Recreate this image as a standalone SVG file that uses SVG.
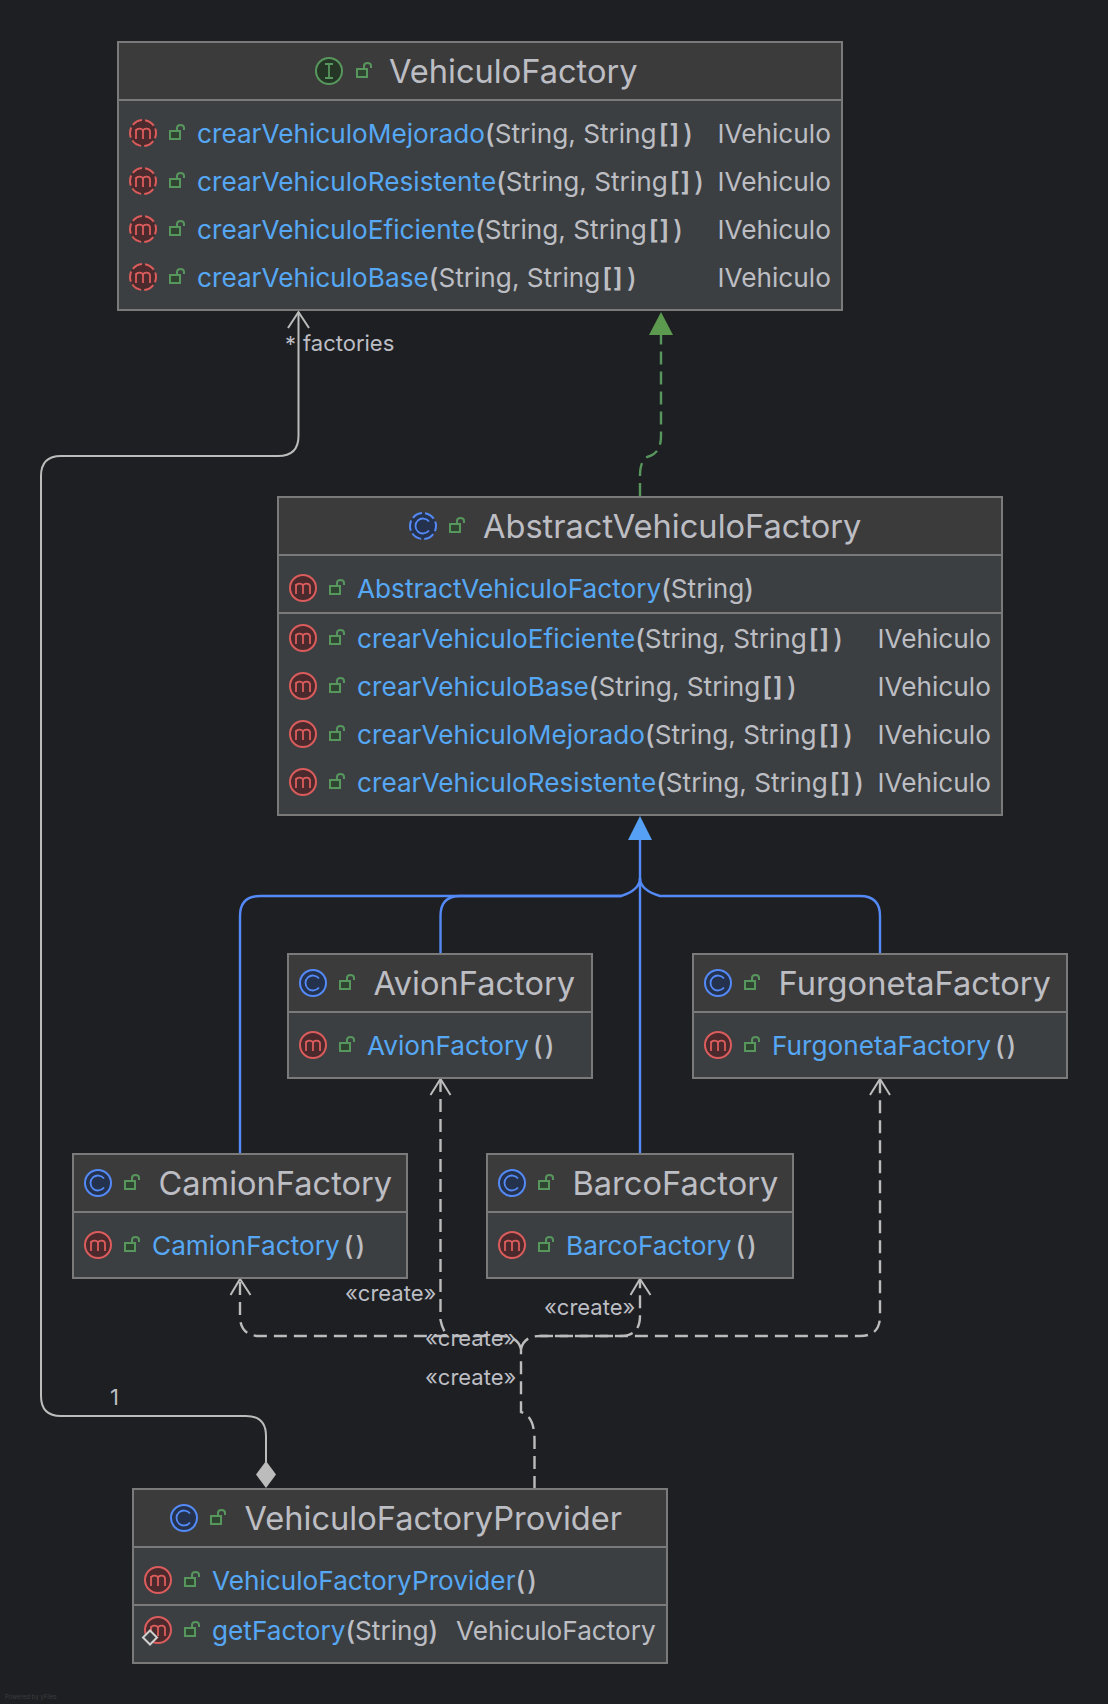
<svg xmlns="http://www.w3.org/2000/svg" xmlns:xlink="http://www.w3.org/1999/xlink" width="1108" height="1704" viewBox="0 0 1108 1704">
<style>
text{font-family:Inter,"Noto Sans",sans-serif;fill:#bcbec4}
.t{font-size:32.600px}
.r{font-size:26.200px}
.l{font-size:22px}
.b{fill:#56a8f5}
.p{font-weight:500}
.q{font-weight:600;letter-spacing:1px}
.body{fill:#3c3f41;stroke:#7a7a7a;stroke-width:2}
.head{fill:#3c3b3b}
.sep{stroke:#7a7a7a;stroke-width:2}
.e{fill:none;stroke-width:2.400}
.g{stroke:#bcbcbc}
.d{stroke-dasharray:13 7}
</style>
<defs>
<path id="mg" d="M-7 6V-4M-7-1.500C-7-5 0-5.500 0-1.500V6M0-1.500C0-5.500 7-5 7-1.500V6" fill="none" stroke="#db5c5c" stroke-width="1.800"/>
<g id="m"><circle r="13" fill="#4a2a2c" stroke="#db5c5c" stroke-width="2"/><use xlink:href="#mg"/></g>
<g id="ma"><circle r="13" fill="#4a2a2c" stroke="#db5c5c" stroke-width="2" stroke-dasharray="10.400 3.200" stroke-dashoffset="5"/><use xlink:href="#mg"/></g>
<g id="c"><circle r="13" fill="#25324d" stroke="#548af7" stroke-width="2"/><path d="M6-4.500A7.500 7.500 0 1 0 6 4.500" fill="none" stroke="#548af7" stroke-width="1.800"/></g>
<g id="ca"><circle r="13" fill="#25324d" stroke="#548af7" stroke-width="2" stroke-dasharray="10.400 3.200" stroke-dashoffset="5"/><path d="M6-4.500A7.500 7.500 0 1 0 6 4.500" fill="none" stroke="#548af7" stroke-width="1.800"/></g>
<g id="i"><circle r="13" fill="#253627" stroke="#57965c" stroke-width="2"/><path d="M-4-7H4M-4 7H4M0-7V7" fill="none" stroke="#57965c" stroke-width="1.800"/></g>
<g id="k" fill="none" stroke="#57965c" stroke-width="2"><rect x="-7" y="-2" width="10" height="8" fill="#2f4532"/><path d="M0-2V-5Q0-8 3.500-8Q7-8 7-5V-3"/></g>
</defs>
<rect width="1108" height="1704" fill="#1e1f22"/>

<g id="connectors">
<path class="e g" style="stroke-width:2" d="M298.500 312V436Q298.500 456 278 456H61Q41 456 41 476V1396Q41 1416 61 1416H246Q266 1416 266 1436V1462" />
<path d="M288 328L298.500 312L309 328" fill="none" stroke="#bcbcbc" stroke-width="2"/>
<path d="M266 1461L276 1474.500L266 1488L256 1474.500Z" fill="#bcbcbc"/>

<path class="e" stroke="#57965c" stroke-dasharray="13 7" d="M640 496V476Q640 458 650 456Q661 452 661 436V335"/>
<path d="M661 312L673 335H649Z" fill="#5c9a4f"/>

<g class="e" stroke="#548af7">
<path d="M640 1153V838"/>
<path d="M240 1153V916Q240 896 260 896H621Q640 890 640 878"/>
<path d="M440.500 953V916Q440.500 896 460 896H621"/>
<path d="M880 953V916Q880 896 860 896H660Q640 890 640 878"/>
</g>
<path d="M640 816L652 840H628Z" fill="#56a0f5"/>

<g class="e g d">
<path d="M534.500 1489V1440Q534.500 1416 521 1412V1349"/>
<path d="M521 1349Q518 1336 500 1336H260Q240 1336 240 1316V1278"/>
<path d="M521 1349Q524 1336 540 1336H860Q880 1336 880 1316V1078"/>
<path d="M540 1336H620Q640 1336 640 1316V1278"/>
<path d="M440.500 1079V1320Q442 1328 447 1336"/>
</g>
<g fill="none" stroke="#bcbcbc" stroke-width="2">
<path d="M230.500 1295L240 1279L250.500 1295"/>
<path d="M430.500 1095L440.500 1079L450.500 1095"/>
<path d="M630.500 1295L640 1279L650.500 1295"/>
<path d="M870 1095L880 1079L890 1095"/>
</g>
<text class="l" x="285" y="352">*</text>
<text class="l" x="303" y="351">factories</text>
<text class="l" x="110" y="1405">1</text>
<text class="l" x="345" y="1301">«create»</text>
<text class="l" x="425" y="1346">«create»</text>
<text class="l" x="425" y="1385">«create»</text>
<text class="l" x="544" y="1315">«create»</text>
</g>

<g id="VehiculoFactory">
<rect class="body" x="118" y="42" width="724" height="268"/>
<rect class="head" x="119" y="43" width="722" height="57"/>
<line class="sep" x1="119" y1="100" x2="841" y2="100"/>
<use xlink:href="#i" x="329" y="71"/><use xlink:href="#k" x="364" y="71"/>
<text class="t" x="389" y="83">VehiculoFactory</text>
<use xlink:href="#ma" x="143" y="133"/><use xlink:href="#k" x="177" y="133"/>
<text class="r" x="197" y="143"><tspan class="b">crearVehiculoMejorado</tspan><tspan class="p">(</tspan>String, String<tspan class="q" dx="2">[]</tspan><tspan class="p" dx="3">)</tspan></text><text class="r" x="717.500" y="143">IVehiculo</text>
<use xlink:href="#ma" x="143" y="181"/><use xlink:href="#k" x="177" y="181"/>
<text class="r" x="197" y="191"><tspan class="b">crearVehiculoResistente</tspan><tspan class="p">(</tspan>String, String<tspan class="q" dx="2">[]</tspan><tspan class="p" dx="3">)</tspan></text><text class="r" x="717.500" y="191">IVehiculo</text>
<use xlink:href="#ma" x="143" y="229"/><use xlink:href="#k" x="177" y="229"/>
<text class="r" x="197" y="239"><tspan class="b">crearVehiculoEficiente</tspan><tspan class="p">(</tspan>String, String<tspan class="q" dx="2">[]</tspan><tspan class="p" dx="3">)</tspan></text><text class="r" x="717.500" y="239">IVehiculo</text>
<use xlink:href="#ma" x="143" y="277"/><use xlink:href="#k" x="177" y="277"/>
<text class="r" x="197" y="287"><tspan class="b">crearVehiculoBase</tspan><tspan class="p">(</tspan>String, String<tspan class="q" dx="2">[]</tspan><tspan class="p" dx="3">)</tspan></text><text class="r" x="717.500" y="287">IVehiculo</text>
</g>

<g id="AbstractVehiculoFactory">
<rect class="body" x="278" y="497" width="724" height="318"/>
<rect class="head" x="279" y="498" width="722" height="57"/>
<line class="sep" x1="279" y1="555" x2="1001" y2="555"/>
<line class="sep" x1="279" y1="613" x2="1001" y2="613"/>
<use xlink:href="#ca" x="423" y="526"/><use xlink:href="#k" x="457" y="526"/>
<text class="t" x="483" y="538">AbstractVehiculoFactory</text>
<use xlink:href="#m" x="303" y="588"/><use xlink:href="#k" x="337" y="588"/>
<text class="r" x="357" y="598"><tspan class="b">AbstractVehiculoFactory</tspan><tspan class="p">(</tspan>String<tspan class="p">)</tspan></text>
<use xlink:href="#m" x="303" y="638"/><use xlink:href="#k" x="337" y="638"/>
<text class="r" x="357" y="648"><tspan class="b">crearVehiculoEficiente</tspan><tspan class="p">(</tspan>String, String<tspan class="q" dx="2">[]</tspan><tspan class="p" dx="3">)</tspan></text><text class="r" x="877.500" y="648">IVehiculo</text>
<use xlink:href="#m" x="303" y="686"/><use xlink:href="#k" x="337" y="686"/>
<text class="r" x="357" y="696"><tspan class="b">crearVehiculoBase</tspan><tspan class="p">(</tspan>String, String<tspan class="q" dx="2">[]</tspan><tspan class="p" dx="3">)</tspan></text><text class="r" x="877.500" y="696">IVehiculo</text>
<use xlink:href="#m" x="303" y="734"/><use xlink:href="#k" x="337" y="734"/>
<text class="r" x="357" y="744"><tspan class="b">crearVehiculoMejorado</tspan><tspan class="p">(</tspan>String, String<tspan class="q" dx="2">[]</tspan><tspan class="p" dx="3">)</tspan></text><text class="r" x="877.500" y="744">IVehiculo</text>
<use xlink:href="#m" x="303" y="782"/><use xlink:href="#k" x="337" y="782"/>
<text class="r" x="357" y="792"><tspan class="b">crearVehiculoResistente</tspan><tspan class="p">(</tspan>String, String<tspan class="q" dx="2">[]</tspan><tspan class="p" dx="3">)</tspan></text><text class="r" x="877.500" y="792">IVehiculo</text>
</g>

<g id="AvionFactory">
<rect class="body" x="288" y="954" width="304" height="124"/>
<rect class="head" x="289" y="955" width="302" height="57"/>
<line class="sep" x1="289" y1="1012" x2="591" y2="1012"/>
<use xlink:href="#c" x="313" y="983"/><use xlink:href="#k" x="347" y="983"/>
<text class="t" x="373.500" y="995">AvionFactory</text>
<use xlink:href="#m" x="313" y="1045"/><use xlink:href="#k" x="347" y="1045"/>
<text class="r" x="367" y="1055"><tspan class="b">AvionFactory</tspan><tspan class="p" dx="4" style="letter-spacing:2px">()</tspan></text>
</g>

<g id="FurgonetaFactory">
<rect class="body" x="693" y="954" width="374" height="124"/>
<rect class="head" x="694" y="955" width="372" height="57"/>
<line class="sep" x1="694" y1="1012" x2="1066" y2="1012"/>
<use xlink:href="#c" x="718" y="983"/><use xlink:href="#k" x="752" y="983"/>
<text class="t" x="778.500" y="995">FurgonetaFactory</text>
<use xlink:href="#m" x="718" y="1045"/><use xlink:href="#k" x="752" y="1045"/>
<text class="r" x="772" y="1055"><tspan class="b">FurgonetaFactory</tspan><tspan class="p" dx="4" style="letter-spacing:2px">()</tspan></text>
</g>

<g id="CamionFactory">
<rect class="body" x="73" y="1154" width="334" height="124"/>
<rect class="head" x="74" y="1155" width="332" height="57"/>
<line class="sep" x1="74" y1="1212" x2="406" y2="1212"/>
<use xlink:href="#c" x="98" y="1183"/><use xlink:href="#k" x="132" y="1183"/>
<text class="t" x="158.500" y="1195">CamionFactory</text>
<use xlink:href="#m" x="98" y="1245"/><use xlink:href="#k" x="132" y="1245"/>
<text class="r" x="152" y="1255"><tspan class="b">CamionFactory</tspan><tspan class="p" dx="4" style="letter-spacing:2px">()</tspan></text>
</g>

<g id="BarcoFactory">
<rect class="body" x="487" y="1154" width="306" height="124"/>
<rect class="head" x="488" y="1155" width="304" height="57"/>
<line class="sep" x1="488" y1="1212" x2="792" y2="1212"/>
<use xlink:href="#c" x="512" y="1183"/><use xlink:href="#k" x="546" y="1183"/>
<text class="t" x="572.500" y="1195">BarcoFactory</text>
<use xlink:href="#m" x="512" y="1245"/><use xlink:href="#k" x="546" y="1245"/>
<text class="r" x="566" y="1255"><tspan class="b">BarcoFactory</tspan><tspan class="p" dx="4" style="letter-spacing:2px">()</tspan></text>
</g>

<g id="VehiculoFactoryProvider">
<rect class="body" x="133" y="1489" width="534" height="174"/>
<rect class="head" x="134" y="1490" width="532" height="57"/>
<line class="sep" x1="134" y1="1547" x2="666" y2="1547"/>
<line class="sep" x1="134" y1="1605" x2="666" y2="1605"/>
<use xlink:href="#c" x="184" y="1518"/><use xlink:href="#k" x="218" y="1518"/>
<text class="t" x="244.500" y="1530">VehiculoFactoryProvider</text>
<use xlink:href="#m" x="158" y="1580"/><use xlink:href="#k" x="192" y="1580"/>
<text class="r" x="212" y="1590"><tspan class="b">VehiculoFactoryProvider</tspan><tspan class="p" style="letter-spacing:2px">()</tspan></text>
<use xlink:href="#m" x="158" y="1630"/><use xlink:href="#k" x="192" y="1630"/>
<path d="M150 1630.500L157 1637.500L150 1644.500L143 1637.500Z" fill="#3c3f41" stroke="#d0d0d0" stroke-width="2"/>
<text class="r" x="212" y="1640"><tspan class="b">getFactory</tspan><tspan class="p">(</tspan>String<tspan class="p">)</tspan></text><text class="r" x="456" y="1640">VehiculoFactory</text>
</g>
<text x="5" y="1699" style="font-size:6px;fill:#3c3d40">Powered by yFiles</text>
</svg>
